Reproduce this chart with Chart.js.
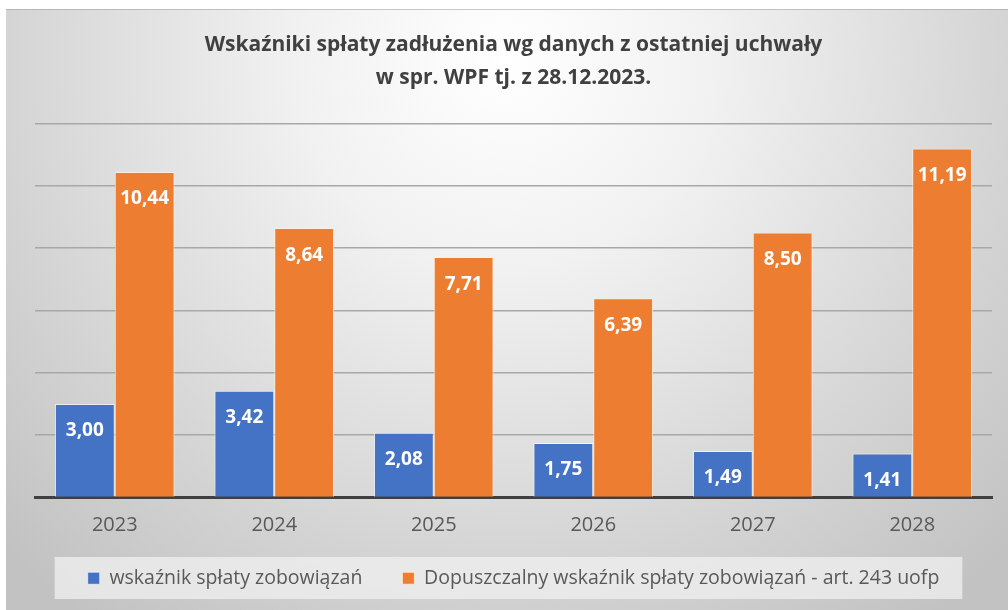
<!DOCTYPE html>
<html>
<head>
<meta charset="utf-8">
<script src="https://cdn.jsdelivr.net/npm/chart.js@4/dist/chart.umd.min.js"></script>
<style>
  html, body { margin: 0; padding: 0; background: #ffffff; }
  #wrap { position: absolute; left: 0; top: 0; width: 1008px; height: 610px; }
</style>
</head>
<body>
<div id="wrap"><canvas id="c" width="1008" height="610"></canvas></div>
<script>
const titleLines = ['Wskaźniki spłaty zadłużenia wg danych z ostatniej uchwały', 'w spr. WPF tj. z 28.12.2023.'];
const categories = ['2023', '2024', '2025', '2026', '2027', '2028'];
const seriesNames = ['wskaźnik spłaty zobowiązań', 'Dopuszczalny wskaźnik spłaty zobowiązań - art. 243 uofp'];
const repaymentRatio = [3.00, 3.42, 2.08, 1.75, 1.49, 1.41];
const allowedRatio = [10.44, 8.64, 7.71, 6.39, 8.50, 11.19];
const yTicks = [0, 2, 4, 6, 8, 10, 12];

const FONT = "'Open Sans', 'Noto Sans', sans-serif";

const bgPlugin = {
  id: 'bg',
  afterLayout(chart) {
    // let the category labels overlap into the legend band without being clipped
    const xs = chart.scales.x;
    if (xs) xs._computeLabelArea = function () { return undefined; };
  },
  beforeDraw(chart) {
    const ctx = chart.ctx;
    ctx.save();
    ctx.fillStyle = '#ffffff';
    ctx.fillRect(0, 0, chart.width, chart.height);
    const x0 = 6, y0 = 9, x1 = chart.width, y1 = chart.height;
    const g = ctx.createRadialGradient(505, 60, 0, 505, 60, 700);
    g.addColorStop(0, '#ffffff');
    g.addColorStop(0.3, '#f1f1f1');
    g.addColorStop(0.72, '#d4d4d4');
    g.addColorStop(1, '#c2c2c2');
    ctx.fillStyle = g;
    ctx.fillRect(x0, y0, x1 - x0, y1 - y0);
    ctx.fillStyle = 'rgba(150,150,150,0.5)';
    ctx.fillRect(x0, y0, x1 - x0, 1);
    // legend background band
    const lg = chart.legend;
    if (lg && lg.legendItems) {
      const lf = lg.options.labels.font;
      ctx.font = lf.size + 'px ' + FONT;
      const bw = lg.options.labels.boxWidth;
      let total = 0;
      lg.legendItems.forEach((it, i) => {
        total += bw + lf.size / 2 + ctx.measureText(it.text).width;
        if (i > 0) total += lg.options.labels.padding;
      });
      const cx = (lg.left + lg.right) / 2;
      ctx.fillStyle = 'rgba(240,240,240,0.75)';
      ctx.fillRect(cx - total / 2 - 33, 557, total + 56, 42);
    }
    ctx.restore();
  }
};

const labelPlugin = {
  id: 'valueLabels',
  afterDatasetsDraw(chart) {
    const ctx = chart.ctx;
    ctx.save();
    ctx.font = 'bold 19px ' + FONT;
    ctx.fillStyle = '#ffffff';
    ctx.textAlign = 'center';
    ctx.textBaseline = 'middle';
    chart.data.datasets.forEach((ds, di) => {
      const meta = chart.getDatasetMeta(di);
      meta.data.forEach((el, i) => {
        const v = ds.data[i];
        ctx.fillText(v.toFixed(2).replace('.', ','), el.x, el.y + 27);
      });
    });
    ctx.restore();
  }
};

new Chart(document.getElementById('c'), {
  type: 'bar',
  data: {
    labels: categories,
    datasets: [
      { label: seriesNames[0], data: repaymentRatio, backgroundColor: '#4472C4', borderColor: 'rgba(255,255,255,0.6)', borderWidth: 1 },
      { label: seriesNames[1], data: allowedRatio, backgroundColor: '#ED7D31', borderColor: 'rgba(255,240,220,0.8)', borderWidth: 1 }
    ]
  },
  options: {
    responsive: false,
    animation: false,
    devicePixelRatio: 1,
    datasets: { bar: { categoryPercentage: 0.75, barPercentage: 1.0 } },
    layout: { padding: { left: 35, right: 16, top: 0, bottom: 12 } },
    plugins: {
      title: {
        display: true,
        text: titleLines,
        color: '#404040',
        font: { family: FONT, size: 21, weight: 'bold', lineHeight: 1.58 },
        padding: { top: 28, bottom: 29 }
      },
      legend: {
        position: 'bottom',
        labels: {
          color: '#595959',
          font: { family: FONT, size: 19.5 },
          boxWidth: 12,
          boxHeight: 12,
          padding: 40
        }
      },
      tooltip: { enabled: false }
    },
    scales: {
      x: {
        grid: { display: false, drawTicks: false },
        border: { display: true, color: '#3f3f3f', width: 3 },
        ticks: { color: '#595959', font: { family: FONT, size: 20 }, padding: 16 },
        afterFit(scale) { scale.height = 31; }
      },
      y: {
        min: 0,
        max: 12,
        afterBuildTicks(scale) { scale.ticks = yTicks.map(v => ({ value: v })); },
        ticks: { display: false },
        grid: { color: '#a8a8a8', lineWidth: 1.5, drawTicks: false },
        border: { display: false }
      }
    }
  },
  plugins: [bgPlugin, labelPlugin]
});
</script>
</body>
</html>
